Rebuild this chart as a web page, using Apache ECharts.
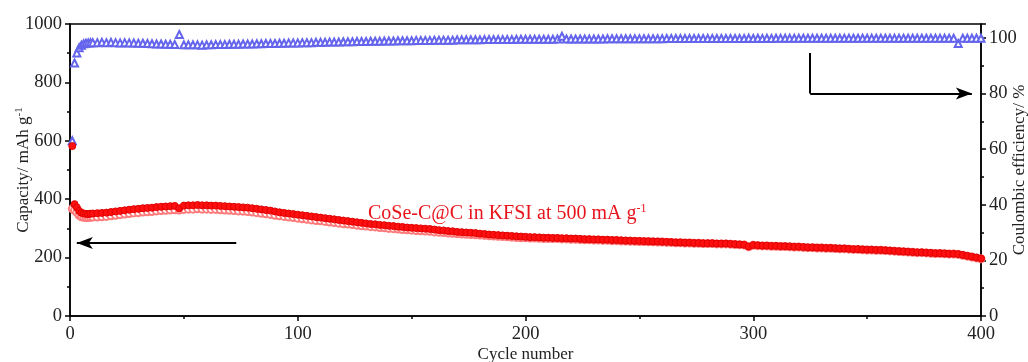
<!DOCTYPE html>
<html>
<head>
<meta charset="utf-8">
<script src="https://cdn.jsdelivr.net/npm/echarts@6/dist/echarts.min.js"></script>
<style>
  html, body { margin: 0; padding: 0; background: #fff; }
  #chart { width: 1028px; height: 362px; }
</style>
</head>
<body>
<div id="chart"></div>
<script>
// cycles 1..10, then every second cycle up to 400
const cycles = [];
for (let c = 1; c <= 10; c++) cycles.push(c);
for (let c = 12; c <= 400; c += 2) cycles.push(c);

// discharge capacity (mAh g-1), filled circles
const dischargeCap = [
    582,383,372,360,354,351,350,349,350,351,
    352,353,354,356,358,360,362,364,366,367,
    369,370,371,373,374,375,376,377,369,378,
    379,379,380,379,379,378,378,377,376,375,
    374,373,372,371,369,367,365,363,361,358,
    355,353,351,349,347,345,343,341,339,337,
    335,333,331,329,327,325,323,321,319,317,
    315,314,312,311,309,308,306,305,303,302,
    301,300,299,298,296,294,293,291,290,288,
    287,286,285,284,282,281,279,278,277,276,
    275,274,273,272,271,270,270,269,268,268,
    267,267,266,266,265,265,264,263,263,262,
    262,261,261,260,260,259,258,258,257,257,
    256,256,255,255,254,254,253,252,252,251,
    251,250,250,249,249,249,248,248,248,247,
    246,245,244,238,243,242,241,241,240,240,
    239,239,238,237,237,236,235,235,234,234,
    233,233,232,231,231,230,229,229,228,227,
    227,226,226,225,224,223,222,221,220,219,
    218,218,217,216,215,215,214,213,213,212,
    209,206,203,200,197
];

// charge capacity (mAh g-1), open circles
const chargeCap = [
    367,362,355,345,340,338,337,337,338,339,
    339,340,341,343,345,347,349,351,353,354,
    356,357,358,360,361,362,363,364,363,365,
    366,366,367,366,366,365,365,364,363,362,
    361,360,359,358,356,354,352,350,348,345,
    343,341,339,337,335,333,331,329,327,326,
    324,322,320,318,316,315,313,311,309,308,
    306,305,303,302,300,299,298,296,295,294,
    293,292,291,290,288,287,286,284,283,282,
    281,280,279,278,277,276,275,274,273,272,
    271,270,269,268,268,267,267,266,265,265,
    265,265,264,264,263,263,262,261,261,260,
    260,259,259,258,258,257,257,256,256,255,
    255,254,254,253,253,252,252,251,251,250,
    250,249,249,248,248,248,247,247,247,246,
    245,244,243,237,242,241,240,240,239,239,
    238,238,237,236,236,235,234,234,233,233,
    232,232,231,230,230,229,228,228,227,226,
    226,225,225,224,223,222,221,220,219,218,
    217,217,216,215,214,214,213,212,212,211,
    208,205,202,199,196
];

// coulombic efficiency (%), open triangles
const coulombEff = [
    63,91,94.6,96.5,97.4,97.9,98.1,98.2,98.3,98.3,
    98.3,98.4,98.3,98.4,98.3,98.2,98.3,98.2,98.2,98.1,
    98.1,98.0,97.9,97.8,97.8,97.7,97.7,97.6,101.2,97.5,
    97.5,97.5,97.5,97.4,97.5,97.5,97.6,97.6,97.6,97.7,
    97.7,97.7,97.8,97.8,97.8,97.9,97.9,98.0,98.0,98.0,
    98.1,98.1,98.2,98.2,98.2,98.3,98.3,98.3,98.4,98.4,
    98.4,98.5,98.5,98.5,98.6,98.6,98.6,98.7,98.7,98.7,
    98.8,98.8,98.8,98.9,98.9,98.9,99.0,99.0,99.0,99.0,
    99.1,99.1,99.1,99.1,99.2,99.2,99.2,99.2,99.2,99.3,
    99.3,99.3,99.3,99.3,99.3,99.4,99.4,99.4,99.4,99.4,
    99.4,99.4,99.5,99.5,99.5,99.5,99.5,99.5,99.5,99.5,
    99.5,99.6,100.6,99.6,99.6,99.6,99.6,99.6,99.6,99.6,
    99.6,99.6,99.7,99.7,99.7,99.7,99.7,99.7,99.7,99.7,
    99.7,99.7,99.7,99.7,99.7,99.8,99.8,99.8,99.8,99.8,
    99.8,99.8,99.8,99.8,99.8,99.8,99.8,99.8,99.8,99.8,
    99.8,99.8,99.8,99.9,99.8,99.9,99.8,99.9,99.8,99.9,
    99.9,99.9,99.9,99.9,99.9,99.9,99.9,99.9,99.9,99.9,
    99.9,99.9,99.9,99.9,99.9,99.9,99.9,99.9,99.9,99.9,
    99.9,99.9,99.9,99.9,99.9,99.9,99.9,99.9,99.9,99.9,
    99.9,99.9,99.9,99.9,99.9,99.9,99.9,99.9,99.9,98.0,
    99.9,99.9,99.9,99.9,99.9
];

const FONT = '"Liberation Serif", "DejaVu Serif", serif';
const zip = arr => cycles.map((c, i) => [c, arr[i]]);

const axisCommon = {
    axisLine: {show: true, onZero: false, lineStyle: {color: '#000', width: 1.5}},
    axisTick: {show: true, length: 5, lineStyle: {color: '#000', width: 1.5}},
    minorTick: {show: true, splitNumber: 2, length: 3, lineStyle: {color: '#000', width: 1.5}},
    splitLine: {show: false},
    minorSplitLine: {show: false},
    axisLabel: {color: '#222', fontFamily: FONT, fontSize: 18.5, margin: 8, formatter: v => String(v)},
    nameTextStyle: {color: '#222', fontFamily: FONT, fontSize: 17},
    nameMoveOverlap: false
};

const chart = echarts.init(document.getElementById('chart'), null, {renderer: 'canvas'});

chart.setOption({
    animation: false,
    backgroundColor: '#fff',
    grid: {left: 70, right: 47, top: 24, bottom: 46, show: true, borderColor: '#000', borderWidth: 1.5, outerBoundsMode: 'none'},
    xAxis: Object.assign({}, axisCommon, {
        type: 'value', min: 0, max: 400, interval: 100,
        name: 'Cycle number', nameLocation: 'middle', nameGap: 30,
        axisLabel: Object.assign({}, axisCommon.axisLabel, {margin: 9})
    }),
    yAxis: [
        Object.assign({}, axisCommon, {
            type: 'value', position: 'left', min: 0, max: 1000, interval: 200,
            name: '{a|Capacity/ mAh g}{s|-1}', nameLocation: 'middle', nameGap: 36, nameRotate: 90,
            nameTextStyle: {color: '#222', fontFamily: FONT, fontSize: 17,
                rich: {a: {fontFamily: FONT, fontSize: 17, color: '#222', lineHeight: 20},
                       s: {fontFamily: FONT, fontSize: 11, color: '#222', verticalAlign: 'top', lineHeight: 20}}}
        }),
        Object.assign({}, axisCommon, {
            type: 'value', position: 'right', min: 0, max: 105, interval: 20,
            name: 'Coulombic efficiency/ %', nameLocation: 'middle', nameGap: 30, nameRotate: 90,
            axisLabel: Object.assign({}, axisCommon.axisLabel, {showMaxLabel: false})
        })
    ],
    graphic: [{
        type: 'text', left: 368, top: 203,
        style: {
            text: '{a|CoSe-C@C in KFSI at 500 mA g}{s|-1}',
            rich: {a: {fontFamily: FONT, fontSize: 20, fill: '#e8141b', lineHeight: 22},
                   s: {fontFamily: FONT, fontSize: 12, fill: '#e8141b', verticalAlign: 'top', lineHeight: 22}}
        }
    }],
    series: [
        {
            name: 'Coulombic efficiency', type: 'line', yAxisIndex: 1, data: zip(coulombEff),
            symbol: 'emptyTriangle', symbolSize: 7,
            itemStyle: {color: '#6464ec', borderWidth: 1},
            lineStyle: {width: 0, opacity: 0},
            markLine: {
                silent: true, animation: false, symbol: ['none', 'none'],
                label: {show: false}, lineStyle: {color: '#000', width: 2, type: 'solid', opacity: 1},
                data: [
                    [{coord: [325, 94.6], symbol: 'none'}, {coord: [325, 80], symbol: 'none'}],
                    [{coord: [325, 80], symbol: 'none'}, {coord: [396, 80], symbol: 'arrow', symbolSize: [9, 16]}]
                ]
            }
        },
        {
            name: 'Charge', type: 'line', data: zip(chargeCap),
            symbol: 'emptyCircle', symbolSize: 7,
            itemStyle: {color: '#ff7a7a', borderWidth: 1},
            lineStyle: {width: 0, opacity: 0}
        },
        {
            name: 'Discharge', type: 'line', data: zip(dischargeCap),
            symbol: 'circle', symbolSize: 7,
            itemStyle: {color: '#ff1010', borderColor: '#e00000', borderWidth: 1},
            lineStyle: {width: 0, opacity: 0},
            markLine: {
                silent: true, animation: false, symbol: ['none', 'arrow'], symbolSize: [9, 16],
                label: {show: false}, lineStyle: {color: '#000', width: 2, type: 'solid', opacity: 1},
                data: [[{coord: [73, 250]}, {coord: [3, 250]}]]
            }
        }
    ]
});
</script>
</body>
</html>
